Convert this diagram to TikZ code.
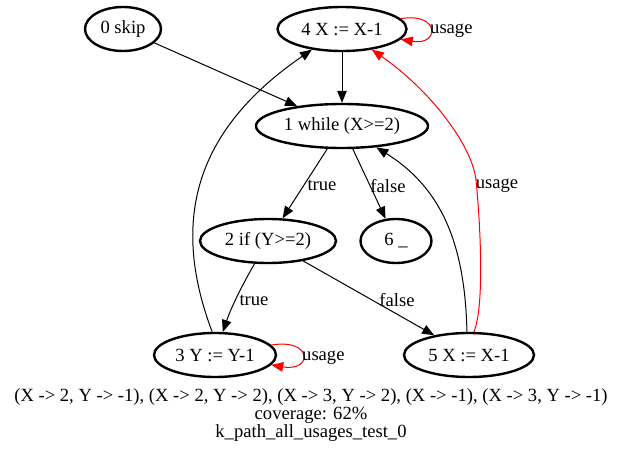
\documentclass[tikz,border=0pt]{standalone}
\usepackage{fontspec}
\setmainfont{Liberation Serif}
\usetikzlibrary{arrows.meta,shapes.geometric}

\begin{document}
\begin{tikzpicture}[
    x=1pt, y=-1pt,
    state/.style={
        draw=black,
        ellipse,
        line width=2.4pt,
        inner sep=0pt,
        minimum height=44pt,
        font=\fontsize{18.6}{20}\selectfont,
    },
    flow/.style={
        -{Triangle[length=12pt,width=9.5pt]},
        line width=1pt,
        color=black,
    },
    usage/.style={
        flow,
        color=red,
    },
    lbl/.style={
        font=\fontsize{18.6}{20}\selectfont,
        inner sep=0pt,
    },
]
\useasboundingbox (0,0) rectangle (622,452);

\node[state,minimum width=76pt] (n0) at (123,29) {0 skip};
\node[state,minimum width=129pt] (n4) at (342,29) {4 X := X-1};
\node[state,minimum width=172pt] (n1) at (342,126) {1 while (X>=2)};
\node[state,minimum width=136pt] (n2) at (268,241) {2 if (Y>=2)};
\node[state,minimum width=71pt] (n6) at (396,241) {6 \_};
\node[state,minimum width=122pt] (n3) at (215,355) {3 Y := Y-1};
\node[state,minimum width=130pt] (n5) at (469,355) {5 X := X-1};

\draw[flow] (n0) -- (n1);
\draw[flow] (n4) -- (n1);
\draw[flow] (n1) -- (n2);
\draw[flow] (n1) -- (n6);
\draw[flow] (n2) .. controls (245,280) and (232,305) .. (n3);
\draw[flow] (n2) -- (n5);
\draw[flow] (n3.97) .. controls (170,220) and (195,130) .. (n4);
\draw[flow] (n5.95) .. controls (465,250) and (445,190) .. (n1);

\draw[usage] (n5.78) .. controls (485,305) and (480,220) .. (476,180)
    .. controls (472,145) and (430,90) .. (n4);
\draw[usage] (n4.10) .. controls (440,12) and (440,46) .. (n4.-10);
\draw[usage] (n3.10) .. controls (313,338) and (313,372) .. (n3.-10);

\node[lbl] (t12) at (322,185) {true};
\node[lbl] (f16) at (388,186) {false};
\node[lbl] (t23) at (254,300) {true};
\node[lbl] (f25) at (397,300) {false};
\node[lbl] (u54) at (497,186) {usage};
\node[lbl,anchor=west] (u44) at (430,31) {usage};
\node[lbl,anchor=west] (u33) at (302,358) {usage};

\node[lbl,align=center,font=\fontsize{18.6}{18}\selectfont] (caption) at (311,415) {%
    (X -> 2, Y -> -1), (X -> 2, Y -> 2), (X -> 3, Y -> 2), (X -> -1), (X -> 3, Y -> -1)\\
    coverage: 62\%\\
    k\_path\_all\_usages\_test\_0};
\end{tikzpicture}
\end{document}
